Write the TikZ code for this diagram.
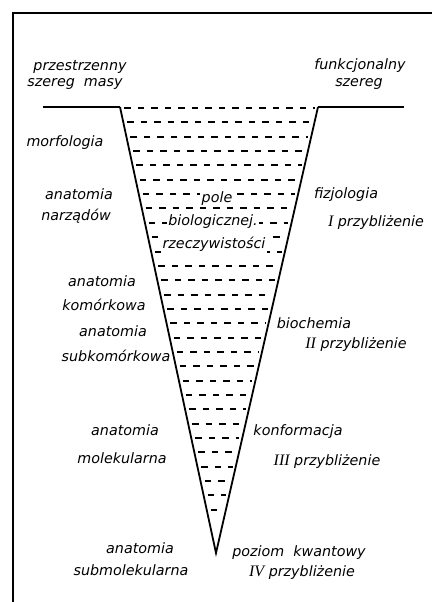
\documentclass[tikz,border=0pt]{standalone}
\usepackage{fontspec}
\setmainfont{DejaVu Sans}
\newfontfamily\romfont{Liberation Serif}
\newcommand{\rn}[1]{{\romfont\itshape\fontsize{16}{16}\selectfont #1}}
\begin{document}
\begin{tikzpicture}[x=1pt,y=-1pt,
  lbl/.style={font=\fontsize{14.3}{16}\selectfont\itshape, inner sep=1pt},
  inlbl/.style={lbl, fill=white, inner sep=1.5pt},
  frameline/.style={line width=2.6pt, black},
  funnel/.style={line width=1.8pt, black, line join=miter},
  level/.style={line width=2pt, black},
  dashrow/.style={line width=2pt, black, dash pattern=on 6.5pt off 7pt}]
\useasboundingbox (0,0) rectangle (432,602);
\fill[white] (0,0) rectangle (432,602);
% frame
\coordinate (fbl) at (13,602);
\coordinate (ftl) at (13,13);
\coordinate (ftr) at (432,13);
\draw[frameline] (fbl) -- (ftl) -- (ftr);
% funnel
\coordinate (L0) at (43,107);
\coordinate (TL) at (120,107);
\coordinate (TR) at (318,107);
\coordinate (R0) at (404,107);
\coordinate (AP) at (216,553);
% dashed rows
\foreach \k in {0,...,28}{
  \pgfmathsetmacro{\yy}{round(108+14.35*\k)}
  \pgfmathsetmacro{\xl}{120+0.21525*(\yy-107)+4}
  \pgfmathsetmacro{\xr}{318-0.22870*(\yy-107)-3}
  \draw[dashrow] (\xl,\yy) -- (\xr,\yy);
}
\draw[level] (L0) -- (TL);
\draw[level] (TR) -- (R0);
\draw[funnel] (TL) -- (AP) -- (TR);
% inside labels
\node[inlbl] (pole) at (217,199) {pole};
\node[inlbl] (biol) at (213,222) {biologicznej.};
\node[inlbl] (rzecz) at (214,244) {rzeczywistości};
% top labels
\node[lbl] (prz) at (80,67) {przestrzenny};
\node[lbl] (szm) at (75,84) {szereg\ \ masy};
\node[lbl] (fun) at (360,66) {funkcjonalny};
\node[lbl] (sz) at (359,84) {szereg};
% left labels
\node[lbl] (morf) at (65,143) {morfologia};
\node[lbl] (an1) at (79,194) {anatomia};
\node[lbl] (narz) at (76,216) {narządów};
\node[lbl] (an2) at (102,281) {anatomia};
\node[lbl] (kom) at (104,305) {komórkowa};
\node[lbl] (an3) at (113,331) {anatomia};
\node[lbl] (sub) at (116,356) {subkomórkowa};
\node[lbl] (an4) at (125,430) {anatomia};
\node[lbl] (mol) at (122,458) {molekularna};
\node[lbl] (an5) at (140,548) {anatomia};
\node[lbl] (smol) at (131,570) {submolekularna};
% right labels
\node[lbl] (fiz) at (346,195) {fizjologia};
\node[lbl] (p1) at (376,223) {\rn{I} przybliżenie};
\node[lbl] (bio) at (314,323) {biochemia};
\node[lbl] (p2) at (356,345) {\rn{II} przybliżenie};
\node[lbl] (konf) at (298,432) {konformacja};
\node[lbl] (p3) at (327,462) {\rn{III} przybliżenie};
\node[lbl] (kw) at (299,553) {poziom\ \ kwantowy};
\node[lbl] (p4) at (302,573) {\rn{IV} przybliżenie};
\end{tikzpicture}
\end{document}
